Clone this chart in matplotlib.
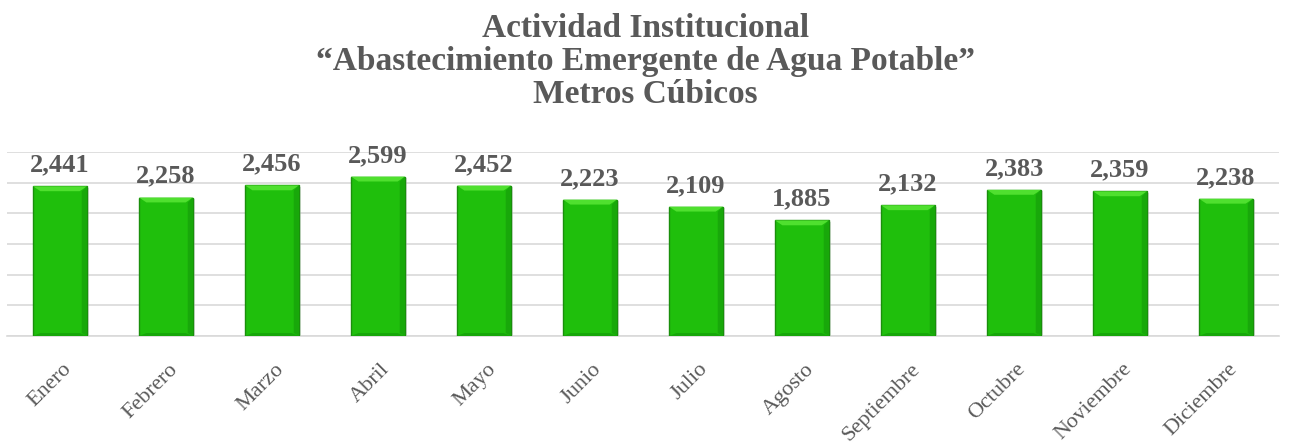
import matplotlib
matplotlib.use("Agg")
import matplotlib.pyplot as plt
import numpy as np
from matplotlib.transforms import ScaledTranslation

months = ["Enero", "Febrero", "Marzo", "Abril", "Mayo", "Junio", "Julio",
          "Agosto", "Septiembre", "Octubre", "Noviembre", "Diciembre"]
values = [2441, 2258, 2456, 2599, 2452, 2223, 2109, 1885, 2132, 2383, 2359, 2238]
title_lines = ["Actividad Institucional",
               "\u201cAbastecimiento Emergente de Agua Potable\u201d",
               "Metros C\u00fabicos"]

gray = "#595959"
serif = ["Liberation Serif", "DejaVu Serif"]

fig = plt.figure(figsize=(12.91, 4.48), dpi=100)
ax = fig.add_axes([7 / 1291, 0.25, (1279 - 7) / 1291, 0.6607 - 0.25])

x = np.arange(len(months))
w = 0.51
# soft shadow
ax.bar(x + 0.02, values, width=w, bottom=-25, color="#bdbdbd", alpha=0.5, zorder=2)
bars = ax.bar(x, values, width=w, color="#1fbf0c", edgecolor="#1a8f0c",
              linewidth=1.0, zorder=3)
# bevel highlight at top and darker bottom band
bev = 80
for xi, v in zip(x, values):
    ax.fill([xi - w / 2, xi + w / 2, xi + w / 2 - 0.07, xi - w / 2 + 0.07],
            [v, v, v - bev, v - bev], color="#4fe02f", zorder=4, lw=0)
    ax.fill([xi - w / 2, xi - w / 2 + 0.07, xi + w / 2 - 0.07, xi + w / 2],
            [0, bev * 0.6, bev * 0.6, 0], color="#17a60a", zorder=4, lw=0)
    ax.fill([xi + w / 2, xi + w / 2 - 0.05, xi + w / 2 - 0.05, xi + w / 2],
            [v, v - bev, bev * 0.6, 0], color="#18a80a", zorder=4, lw=0)

for xi, v in zip(x, values):
    ax.annotate(f"{v:,}", (xi, v), xytext=(0, 7), textcoords="offset points",
                ha="center", va="bottom", fontsize=19, fontweight="bold",
                color=gray, family=serif, zorder=5)

ax.set_xlim(-0.5, len(months) - 0.5)
ax.set_ylim(0, 3000)
ax.set_yticks(np.arange(0, 3001, 500))
ax.yaxis.grid(True, color="#d9d9d9", linewidth=1.2, zorder=0)
ax.set_axisbelow(True)
ax.tick_params(axis="y", left=False, labelleft=False)
ax.tick_params(axis="x", length=0, pad=22)
for s in ["top", "right", "left"]:
    ax.spines[s].set_visible(False)
ax.spines["bottom"].set_color("#d9d9d9")
ax.spines["bottom"].set_linewidth(1.2)

ax.set_xticks(x)
ax.set_xticklabels(months, rotation=45, ha="right", va="center",
                   rotation_mode="anchor", fontsize=16, color=gray,
                   family=serif)
off = ScaledTranslation(9 / 100, 0, fig.dpi_scale_trans)
for lbl in ax.get_xticklabels():
    lbl.set_transform(lbl.get_transform() + off)

for i, yb in enumerate([37, 70, 103]):
    fig.text(0.5, 1 - yb / 448, title_lines[i], ha="center", va="baseline",
             fontsize=24, fontweight="bold", color=gray, family=serif)

fig.savefig("out.png", dpi=100, facecolor="white")
